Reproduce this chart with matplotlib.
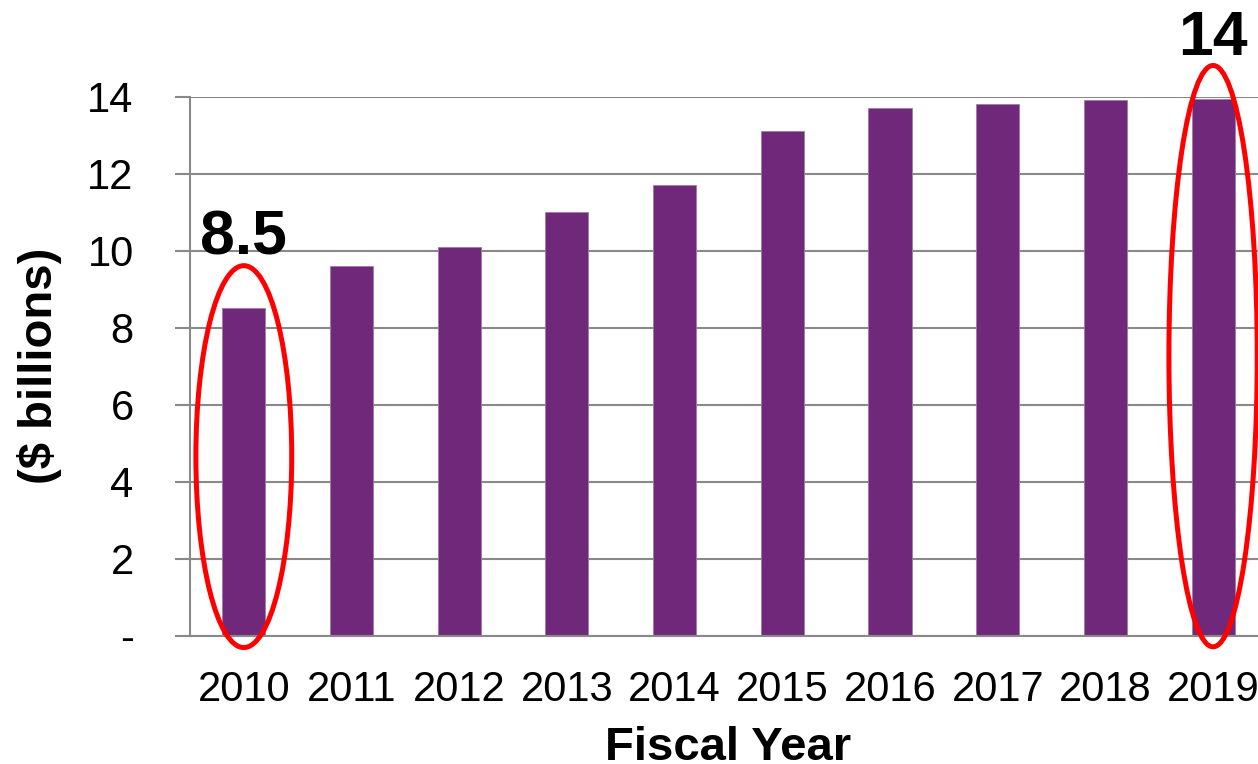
import matplotlib.pyplot as plt
from matplotlib.patches import Ellipse

plt.rcParams['font.family'] = ['Liberation Sans', 'DejaVu Sans']

years = ['2010', '2011', '2012', '2013', '2014', '2015', '2016', '2017', '2018', '2019']
spending = [8.5, 9.6, 10.1, 11.0, 11.7, 13.1, 13.7, 13.8, 13.9, 13.95]
y_ticks = [0, 2, 4, 6, 8, 10, 12, 14]
y_tick_labels = ['-', '2', '4', '6', '8', '10', '12', '14']
callouts = ['8.5', '14']

bar_color = '#70297A'
grid_color = '#898989'

fig = plt.figure(figsize=(12.58, 7.64), dpi=100)
ax = fig.add_axes([0.151, 0.168, 0.8561, 0.7055])

x = list(range(len(years)))
ax.bar(x, spending, width=0.4, color=bar_color, edgecolor='#a07aa6', linewidth=0.6, zorder=3)

ax.set_xlim(-0.5, len(years) - 0.5)
ax.set_ylim(0, 14)
ax.set_xticks(x)
ax.set_xticklabels(years)
ax.set_yticks(y_ticks)
ax.set_yticklabels(y_tick_labels)

ax.yaxis.grid(True, color=grid_color, linewidth=1.5, zorder=0)
ax.set_axisbelow(True)
for side in ['top', 'right']:
    ax.spines[side].set_visible(False)
for side in ['left', 'bottom']:
    ax.spines[side].set_color(grid_color)
    ax.spines[side].set_linewidth(1.5)
    ax.spines[side].set_zorder(4)

ax.tick_params(axis='y', length=10.5, width=1.5, color=grid_color, pad=30, labelsize=30)
ax.tick_params(axis='x', length=0, pad=25, labelsize=30)

ax.set_xlabel('Fiscal Year', fontsize=34, fontweight='bold', labelpad=11)
ax.set_ylabel('($ billions)', fontsize=34, fontweight='bold', labelpad=18)

# red callout rings around first and last year
ax.add_patch(Ellipse((0, 4.65), 0.89, 9.92, fill=False, edgecolor='red',
                     linewidth=3.6, clip_on=False, zorder=5))
ax.add_patch(Ellipse((9, 7.26), 0.82, 15.1, fill=False, edgecolor='red',
                     linewidth=3.6, clip_on=False, zorder=5))

ax.text(0, 9.89, callouts[0], ha='center', va='baseline', fontsize=45,
        fontweight='bold', clip_on=False, zorder=6)
ax.text(9, 15.08, callouts[1], ha='center', va='baseline', fontsize=45,
        fontweight='bold', clip_on=False, zorder=6)

fig.savefig('out.png', dpi=100)
